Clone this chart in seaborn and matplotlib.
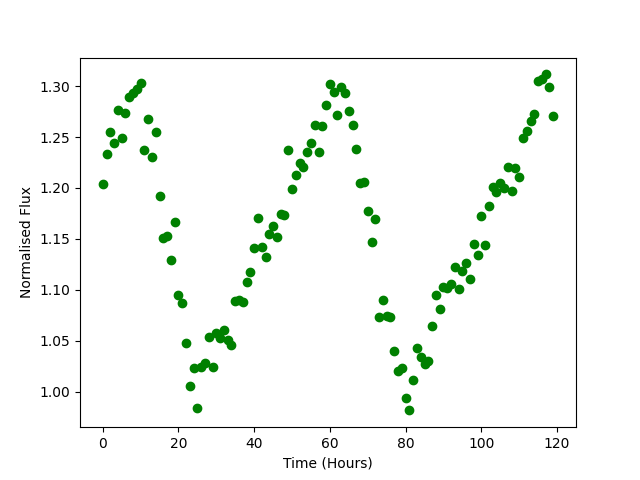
import matplotlib
matplotlib.use("Agg")
import matplotlib.pyplot as plt
import numpy as np
import pandas as pd
import seaborn as sns

# hourly samples
hours = list(range(120))
flux = [
    1.204, 1.233, 1.255, 1.244, 1.277, 1.249, 1.274, 1.289, 1.293, 1.297,
    1.303, 1.237, 1.268, 1.230, 1.255, 1.192, 1.151, 1.153, 1.129, 1.167,
    1.095, 1.087, 1.048, 1.005, 1.023, 0.984, 1.024, 1.028, 1.054, 1.024,
    1.058, 1.053, 1.060, 1.051, 1.046, 1.089, 1.090, 1.088, 1.108, 1.117,
    1.141, 1.170, 1.142, 1.132, 1.155, 1.163, 1.152, 1.174, 1.173, 1.237,
    1.199, 1.213, 1.224, 1.221, 1.235, 1.244, 1.262, 1.235, 1.261, 1.281,
    1.302, 1.294, 1.272, 1.299, 1.293, 1.276, 1.262, 1.238, 1.205, 1.206,
    1.177, 1.147, 1.169, 1.073, 1.090, 1.074, 1.073, 1.040, 1.020, 1.023,
    0.994, 0.982, 1.011, 1.043, 1.034, 1.027, 1.030, 1.064, 1.095, 1.081,
    1.103, 1.102, 1.106, 1.122, 1.101, 1.118, 1.126, 1.111, 1.145, 1.134,
    1.172, 1.144, 1.182, 1.201, 1.196, 1.205, 1.200, 1.221, 1.197, 1.220,
    1.211, 1.249, 1.256, 1.266, 1.273, 1.305, 1.307, 1.312, 1.299, 1.271,
]

df = pd.DataFrame({"time": hours, "flux": flux})

fig, ax = plt.subplots(figsize=(6.4, 4.8), dpi=100)
sns.scatterplot(data=df, x="time", y="flux", ax=ax, color="green",
                edgecolor="green", linewidth=1, s=36)
ax.set_xlabel("Time (Hours)")
ax.set_ylabel("Normalised Flux")
ax.set_xlim(-6, 125)
ax.set_ylim(0.965, 1.328)
ax.set_xticks([0, 20, 40, 60, 80, 100, 120])
ax.set_yticks([1.00, 1.05, 1.10, 1.15, 1.20, 1.25, 1.30])
fig.savefig("out.png", dpi=100)
